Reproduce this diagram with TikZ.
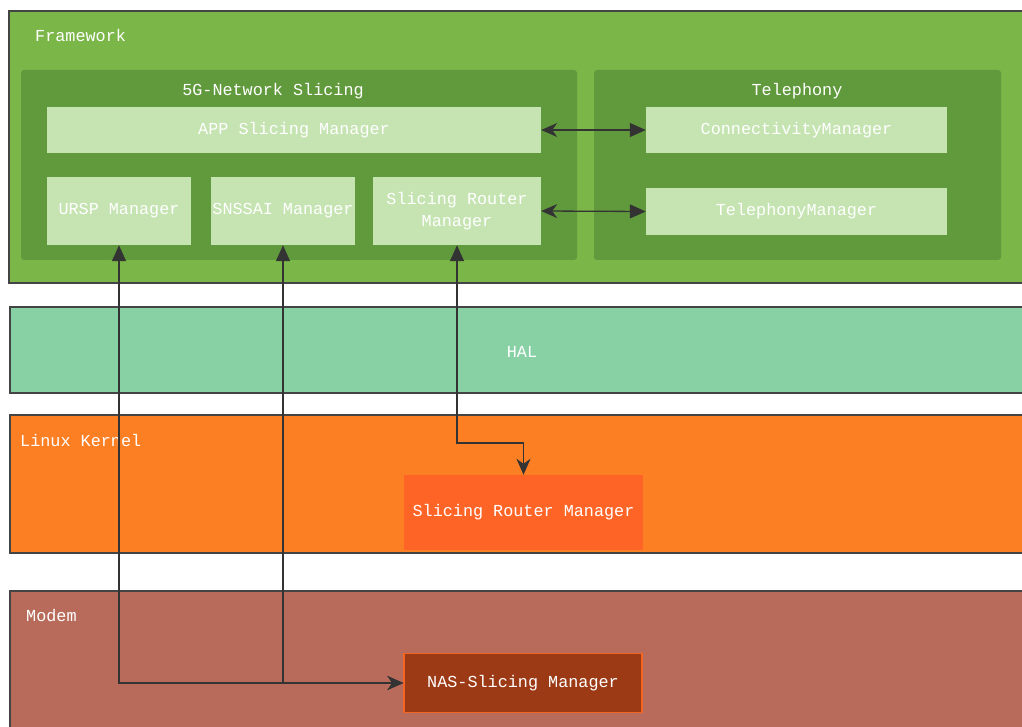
\documentclass[tikz,border=0pt]{standalone}
\usepackage{fontspec}
\setmonofont{Liberation Mono}
\usetikzlibrary{arrows.meta}
\definecolor{fwgreen}{HTML}{7AB648}
\definecolor{panelgreen}{HTML}{619A3C}
\definecolor{lightgreen}{HTML}{C5E4B2}
\definecolor{halgreen}{HTML}{88D1A5}
\definecolor{kernelorange}{HTML}{FD7F24}
\definecolor{kernelbox}{HTML}{FF6427}
\definecolor{modembrown}{HTML}{B86B5B}
\definecolor{nasbrown}{HTML}{9D3A16}
\definecolor{nasborder}{HTML}{F26522}
\definecolor{edgegray}{HTML}{444444}
\definecolor{linegray}{HTML}{333333}
\tikzset{
  x=1pt, y=-1pt,
  txt/.style={text=white, font=\ttfamily\fontsize{16.8}{18}\selectfont, inner sep=0pt},
  layer/.style={draw=edgegray, line width=1.5pt},
  panel/.style={fill=panelgreen, rounded corners=3pt},
  lbox/.style={fill=lightgreen, txt, align=center, anchor=center},
  conn/.style={draw=linegray, line width=1.3pt},
  biarrow/.style={{Triangle[length=16pt,width=14pt]}-{Stealth[length=16pt,width=14pt,inset=5pt]}},
  sidearrow/.style={{Stealth[length=16pt,width=14pt,inset=5pt]}-{Triangle[length=16pt,width=14pt]}},
}
\begin{document}
\begin{tikzpicture}
\useasboundingbox (0,0) rectangle (1022,727);
\clip (0,0) rectangle (1022,727);

% layer bands
\fill[white] (0,0) rectangle (1022,727);
\draw[layer, fill=fwgreen] (9,11) rectangle (1040,283);
\draw[layer, fill=halgreen] (10,307) rectangle (1040,393);
\draw[layer, fill=kernelorange] (10,415) rectangle (1040,553);
\draw[layer, fill=modembrown] (10,591) rectangle (1040,760);

\node[txt, anchor=west] (fwlabel) at (35,35) {Framework};
\node[txt] (hallabel) at (522,352) {HAL};
\node[txt, anchor=west] (kernlabel) at (20,440) {Linux Kernel};
\node[txt, anchor=west] (modemlabel) at (26,616) {Modem};

% framework sub-panels
\fill[panel] (21,70) rectangle (577,260);
\fill[panel] (594,70) rectangle (1001,260);
\node[txt] (nslabel) at (273,91) {5G-Network Slicing};
\node[txt] (telelabel) at (797,91) {Telephony};

% framework components
\node[lbox, minimum width=494pt, minimum height=46pt] (app) at (294,130) {APP Slicing Manager};
\node[lbox, minimum width=144pt, minimum height=68pt] (ursp) at (119,211) {URSP Manager};
\node[lbox, minimum width=144pt, minimum height=68pt] (snssai) at (283,211) {SNSSAI Manager};
\node[lbox, minimum width=168pt, minimum height=68pt] (srm) at (457,211) {Slicing Router\\[4pt]Manager};
\node[lbox, minimum width=301pt, minimum height=46pt] (cm) at (796.5,130) {ConnectivityManager};
\node[lbox, minimum width=301pt, minimum height=47pt] (tm) at (796.5,211.5) {TelephonyManager};

% kernel and modem components
\node[txt, fill=kernelbox, minimum width=239pt, minimum height=75pt] (ksrm) at (523.5,512.5) {Slicing Router Manager};
\node[txt, fill=nasbrown, draw=nasborder, line width=1.3pt, minimum width=238pt, minimum height=59pt] (nas) at (523,683) {NAS-Slicing Manager};

% connectors
\coordinate (bend) at (457,443);
\draw[conn, biarrow] (ursp.south) |- (nas.west);
\draw[conn, biarrow] (snssai.south) |- (nas.west);
\draw[conn, biarrow] (srm.south) -- (bend) -| (ksrm.north);
\draw[conn, sidearrow] (app.east) -- (cm.west);
\draw[conn, sidearrow] (srm.east) -- (tm.west);
\end{tikzpicture}
\end{document}
